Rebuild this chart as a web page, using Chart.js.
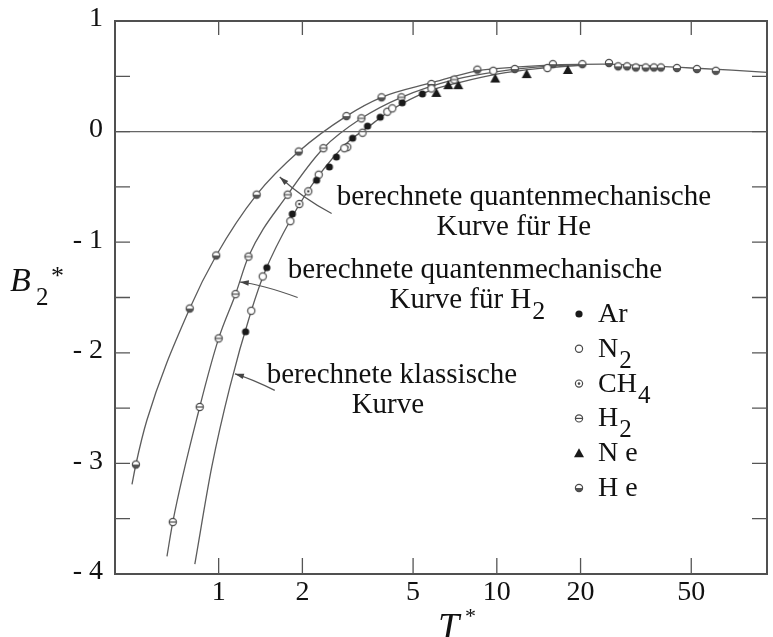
<!DOCTYPE html>
<html>
<head>
<meta charset="utf-8">
<script src="https://cdn.jsdelivr.net/npm/chart.js@4.4.1/dist/chart.umd.min.js"></script>
<style>
  html, body { margin: 0; padding: 0; background: #fff; }
  canvas { display: block; }
</style>
</head>
<body>
<canvas id="chart" width="773" height="637"></canvas>
<script>
// reduced temperature T* against reduced second virial coefficient B2*

// measured points per gas
const arT = [1.25, 1.49, 1.84, 2.25, 2.50, 2.65, 3.03, 3.43, 3.81, 4.57, 5.40];
const arB = [-1.81, -1.23, -0.745, -0.44, -0.32, -0.23, -0.06, 0.05, 0.13, 0.26, 0.34];

const n2T = [1.31, 1.44, 1.81, 2.29, 2.83, 3.29, 4.04, 4.21, 5.82, 9.71, 15.2];
const n2B = [-1.62, -1.31, -0.81, -0.39, -0.15, -0.01, 0.18, 0.21, 0.39, 0.55, 0.575];

const ch4T = [1.95, 2.10, 2.90];
const ch4B = [-0.655, -0.54, -0.14];

const h2T = [0.684, 0.855, 1.0, 1.15, 1.28, 1.77, 2.38, 3.26, 4.54, 7.03];
const h2B = [-3.53, -2.49, -1.87, -1.47, -1.13, -0.57, -0.15, 0.12, 0.31, 0.47];

const neT = [6.06, 6.69, 7.27, 9.87, 12.8, 18.0];
const neB = [0.35, 0.42, 0.42, 0.48, 0.52, 0.557];

const heT = [0.504, 0.787, 0.98, 1.37, 1.94, 2.88, 3.85, 5.82, 8.51, 11.6, 15.9, 20.3, 25.3, 27.3, 29.4, 31.6, 34.3, 36.7, 38.9, 44.4, 52.4, 61.3];
const heB = [-3.01, -1.60, -1.12, -0.57, -0.18, 0.14, 0.31, 0.43, 0.56, 0.566, 0.61, 0.61, 0.62, 0.59, 0.59, 0.58, 0.58, 0.58, 0.58, 0.575, 0.566, 0.55];

// calculated curves
const curveHeT = [0.488, 0.504, 0.552, 0.787, 0.98, 1.37, 1.94, 2.88, 3.85, 5.8, 8.5, 12, 17, 24, 35, 50, 70, 93.6];
const curveHeB = [-3.19, -3.01, -2.61, -1.60, -1.12, -0.57, -0.18, 0.14, 0.31, 0.44, 0.55, 0.585, 0.605, 0.61, 0.595, 0.575, 0.555, 0.536];

const curveH2T = [0.652, 0.684, 0.855, 1.0, 1.15, 1.28, 1.77, 2.38, 3.26, 4.54, 7.03, 10.2, 15, 20];
const curveH2B = [-3.84, -3.53, -2.49, -1.87, -1.47, -1.13, -0.57, -0.15, 0.12, 0.31, 0.47, 0.545, 0.59, 0.605];

const curveClT = [0.821, 0.945, 1.097, 1.31, 1.47, 1.82, 2.27, 2.9, 3.4, 4.2, 5.6, 7.5, 10, 14, 20];
const curveClB = [-3.91, -3.03, -2.31, -1.62, -1.26, -0.79, -0.41, -0.10, 0.03, 0.20, 0.36, 0.45, 0.52, 0.57, 0.60];

// axis ticks
const xTicks = [1, 2, 5, 10, 20, 50];
const yTicks = [1, 0, -1, -2, -3, -4];
const yMinor = [0.5, -0.5, -1.5, -2.5, -3.5];

// legend names: [text, subscript]
const legendNames = [['Ar', ''], ['N', '2'], ['CH', '4'], ['H', '2'], ['N e', ''], ['H e', '']];
const legendKinds = ['ar', 'n2', 'ch4', 'h2', 'ne', 'he'];

// curve labels and leader arrows, anchored in data units
const labels = [
  { t: 2.657, b: -0.665, text: 'berechnete quantenmechanische', sub: '' },
  { t: 6.07,  b: -0.937, text: 'Kurve für He', sub: '' },
  { t: 1.772, b: -1.325, text: 'berechnete quantenmechanische', sub: '' },
  { t: 4.116, b: -1.596, text: 'Kurve für H', sub: '2' },
  { t: 1.489, b: -2.274, text: 'berechnete klassische', sub: '' },
  { t: 3.007, b: -2.545, text: 'Kurve', sub: '' }
];
const arrows = [
  { from: [2.548, -0.74], via: [2.0, -0.60], to: [1.658, -0.41] },
  { from: [1.923, -1.50], via: [1.42, -1.38], to: [1.191, -1.36] },
  { from: [1.591, -2.34], via: [1.33, -2.24], to: [1.144, -2.19] }
];

const INK = '#4a4a4a';
const SERIF = '"Liberation Serif", "Times New Roman", serif';

function drawMarker(g, kind, cx, cy) {
  const r = 3.6;
  g.save();
  g.lineWidth = 1.2;
  g.strokeStyle = INK;
  if (kind === 'ar') {
    g.fillStyle = '#1a1a1a';
    g.beginPath(); g.arc(cx, cy, r, 0, Math.PI * 2); g.fill();
  } else if (kind === 'ne') {
    g.fillStyle = '#1a1a1a';
    g.beginPath();
    g.moveTo(cx, cy - 5); g.lineTo(cx + 5, cy + 4); g.lineTo(cx - 5, cy + 4);
    g.closePath(); g.fill();
  } else {
    g.fillStyle = '#fff';
    g.beginPath(); g.arc(cx, cy, r, 0, Math.PI * 2); g.fill();
    if (kind === 'he') {
      g.fillStyle = '#555';
      g.beginPath(); g.arc(cx, cy, r, 0, Math.PI); g.fill();
    }
    g.beginPath(); g.arc(cx, cy, r, 0, Math.PI * 2); g.stroke();
    if (kind === 'ch4') {
      g.fillStyle = INK;
      g.beginPath(); g.arc(cx, cy, 1.3, 0, Math.PI * 2); g.fill();
    } else if (kind === 'h2') {
      g.beginPath(); g.moveTo(cx - r, cy); g.lineTo(cx + r, cy); g.stroke();
    }
  }
  g.restore();
}

function markerImage(kind) {
  const c = document.createElement('canvas');
  c.width = 12; c.height = 12;
  drawMarker(c.getContext('2d'), kind, 6, 6);
  return c;
}

function pts(xs, ys) {
  return xs.map((x, i) => ({ x: x, y: ys[i] }));
}

function pointSet(xs, ys, kind) {
  return {
    data: pts(xs, ys),
    showLine: false,
    pointStyle: markerImage(kind),
    pointRadius: 5,
    order: 0
  };
}

function curveSet(xs, ys) {
  return {
    data: pts(xs, ys),
    showLine: true,
    borderColor: '#5c5c5c',
    borderWidth: 1.3,
    pointRadius: 0,
    cubicInterpolationMode: 'monotone',
    order: 5
  };
}

// text with an optional lowered index, left aligned at x
function richText(ctx, x, y, text, sub, size) {
  ctx.font = size + 'px ' + SERIF;
  ctx.textAlign = 'left';
  ctx.textBaseline = 'alphabetic';
  ctx.fillText(text, x, y);
  if (sub) {
    const w = ctx.measureText(text).width;
    ctx.font = Math.round(size * 0.9) + 'px ' + SERIF;
    ctx.fillText(sub, x + w + 1, y + 11);
  }
}

const decor = {
  id: 'decor',
  afterDatasetsDraw(chart) {
    const { ctx, chartArea: a, scales: { x, y } } = chart;
    ctx.save();

    // frame and zero line
    ctx.strokeStyle = '#505050';
    ctx.lineWidth = 2;
    ctx.strokeRect(a.left, a.top, a.right - a.left, a.bottom - a.top);
    ctx.lineWidth = 1.4;
    ctx.strokeStyle = '#666';
    ctx.beginPath();
    ctx.moveTo(a.left, y.getPixelForValue(0));
    ctx.lineTo(a.right, y.getPixelForValue(0));
    ctx.stroke();

    // inward ticks
    ctx.lineWidth = 1.3;
    ctx.strokeStyle = '#555';
    ctx.beginPath();
    xTicks.forEach(v => {
      const px = x.getPixelForValue(v);
      ctx.moveTo(px, a.bottom); ctx.lineTo(px, a.bottom - 16);
      ctx.moveTo(px, a.top); ctx.lineTo(px, a.top + 14);
    });
    yTicks.concat(yMinor).forEach(v => {
      if (v === 1 || v === -4) return;
      const py = y.getPixelForValue(v);
      ctx.moveTo(a.left, py); ctx.lineTo(a.left + 15, py);
      ctx.moveTo(a.right, py); ctx.lineTo(a.right - 15, py);
    });
    ctx.stroke();

    // tick labels
    ctx.fillStyle = '#111';
    ctx.font = '28px ' + SERIF;
    ctx.textAlign = 'center';
    ctx.textBaseline = 'middle';
    xTicks.forEach(v => ctx.fillText(String(v), x.getPixelForValue(v), a.bottom + 19));
    ctx.textAlign = 'right';
    yTicks.forEach(v => {
      const s = v < 0 ? '- ' + Math.abs(v) : String(v);
      ctx.fillText(s, a.left - 12, y.getPixelForValue(v) - 2);
    });

    // axis titles
    ctx.textAlign = 'left';
    ctx.textBaseline = 'alphabetic';
    ctx.font = 'italic 38px ' + SERIF;
    ctx.fillText('T', 438, 639);
    ctx.font = '22px ' + SERIF;
    ctx.fillText('*', 465, 623);
    ctx.font = 'italic 34px ' + SERIF;
    ctx.fillText('B', 10, 291);
    ctx.font = '25px ' + SERIF;
    ctx.fillText('2', 36, 305);
    ctx.font = '26px ' + SERIF;
    ctx.fillText('*', 51, 284);

    // curve labels
    labels.forEach(l => {
      richText(ctx, x.getPixelForValue(l.t), y.getPixelForValue(l.b), l.text, l.sub, 29);
    });

    // leader arrows
    ctx.strokeStyle = '#555';
    ctx.fillStyle = '#444';
    ctx.lineWidth = 1.2;
    arrows.forEach(ar => {
      const p0 = [x.getPixelForValue(ar.from[0]), y.getPixelForValue(ar.from[1])];
      const p1 = [x.getPixelForValue(ar.via[0]), y.getPixelForValue(ar.via[1])];
      const p2 = [x.getPixelForValue(ar.to[0]), y.getPixelForValue(ar.to[1])];
      ctx.beginPath();
      ctx.moveTo(p0[0], p0[1]);
      ctx.quadraticCurveTo(p1[0], p1[1], p2[0], p2[1]);
      ctx.stroke();
      const ang = Math.atan2(p2[1] - p1[1], p2[0] - p1[0]);
      ctx.beginPath();
      ctx.moveTo(p2[0], p2[1]);
      ctx.lineTo(p2[0] - 9 * Math.cos(ang) + 2.8 * Math.sin(ang), p2[1] - 9 * Math.sin(ang) - 2.8 * Math.cos(ang));
      ctx.lineTo(p2[0] - 9 * Math.cos(ang) - 2.8 * Math.sin(ang), p2[1] - 9 * Math.sin(ang) + 2.8 * Math.cos(ang));
      ctx.closePath();
      ctx.fill();
    });

    // legend
    legendNames.forEach((n, i) => {
      const base = 322 + i * 34.8;
      drawMarker(ctx, legendKinds[i], 579, base - 8);
      ctx.fillStyle = '#111';
      richText(ctx, 598, base, n[0], n[1], 28);
    });

    ctx.restore();
  }
};

new Chart(document.getElementById('chart'), {
  type: 'scatter',
  data: {
    datasets: [
      pointSet(arT, arB, 'ar'),
      pointSet(n2T, n2B, 'n2'),
      pointSet(ch4T, ch4B, 'ch4'),
      pointSet(h2T, h2B, 'h2'),
      pointSet(neT, neB, 'ne'),
      pointSet(heT, heB, 'he'),
      curveSet(curveHeT, curveHeB),
      curveSet(curveH2T, curveH2B),
      curveSet(curveClT, curveClB)
    ]
  },
  options: {
    responsive: false,
    animation: false,
    layout: { padding: { left: 115, right: 5, top: 21, bottom: 63 } },
    scales: {
      x: { type: 'logarithmic', min: 0.424, max: 93.6, display: false },
      y: { type: 'linear', min: -4, max: 1, display: false }
    },
    plugins: { legend: { display: false }, tooltip: { enabled: false } }
  },
  plugins: [decor]
});
</script>
</body>
</html>
